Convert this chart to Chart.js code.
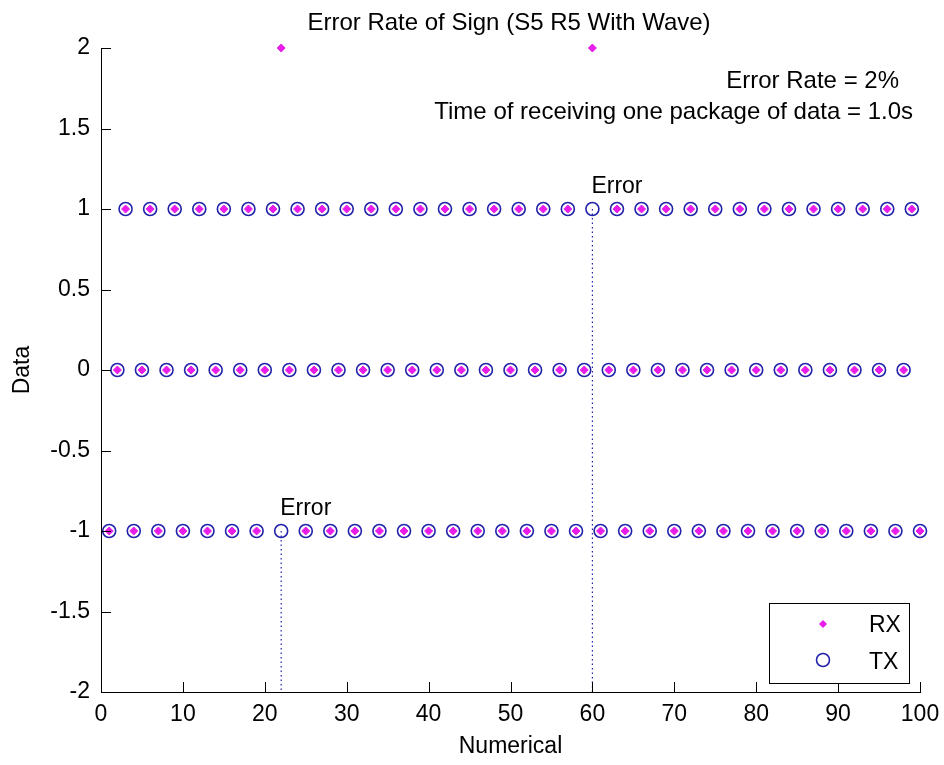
<!DOCTYPE html>
<html>
<head>
<meta charset="utf-8">
<script src="https://cdn.jsdelivr.net/npm/chart.js@4/dist/chart.umd.min.js"></script>
<style>
  html, body { margin: 0; padding: 0; background: #fff; }
  #wrap { width: 944px; height: 765px; }
</style>
</head>
<body>
<div id="wrap"><canvas id="chart" width="944" height="765"></canvas></div>
<script>
// sample index 1..100
const numerical = [1,2,3,4,5,6,7,8,9,10,11,12,13,14,15,16,17,18,19,20,
  21,22,23,24,25,26,27,28,29,30,31,32,33,34,35,36,37,38,39,40,
  41,42,43,44,45,46,47,48,49,50,51,52,53,54,55,56,57,58,59,60,
  61,62,63,64,65,66,67,68,69,70,71,72,73,74,75,76,77,78,79,80,
  81,82,83,84,85,86,87,88,89,90,91,92,93,94,95,96,97,98,99,100];

const txData = [-1,0,1,-1,0,1,-1,0,1,-1,0,1,-1,0,1,-1,0,1,-1,0,
  1,-1,0,1,-1,0,1,-1,0,1,-1,0,1,-1,0,1,-1,0,1,-1,
  0,1,-1,0,1,-1,0,1,-1,0,1,-1,0,1,-1,0,1,-1,0,1,
  -1,0,1,-1,0,1,-1,0,1,-1,0,1,-1,0,1,-1,0,1,-1,0,
  1,-1,0,1,-1,0,1,-1,0,1,-1,0,1,-1,0,1,-1,0,1,-1];

const rxData = [-1,0,1,-1,0,1,-1,0,1,-1,0,1,-1,0,1,-1,0,1,-1,0,
  1,2,0,1,-1,0,1,-1,0,1,-1,0,1,-1,0,1,-1,0,1,-1,
  0,1,-1,0,1,-1,0,1,-1,0,1,-1,0,1,-1,0,1,-1,0,2,
  -1,0,1,-1,0,1,-1,0,1,-1,0,1,-1,0,1,-1,0,1,-1,0,
  1,-1,0,1,-1,0,1,-1,0,1,-1,0,1,-1,0,1,-1,0,1,-1];

const errorX = [22, 60];
const errorTx = [-1, 1];

const xTicks = [0,10,20,30,40,50,60,70,80,90,100];
const yTicks = [-2,-1.5,-1,-0.5,0,0.5,1,1.5,2];

const titleText = 'Error Rate of Sign (S5 R5 With Wave)';
const noteLines = ['Error Rate = 2%', 'Time of receiving one package of data = 1.0s'];

const FONT = '"Liberation Sans", Arial, sans-serif';
const RX_COLOR = '#e81ee8';
const TX_COLOR = '#2222aa';

const rxPoints = numerical.map((x, i) => ({ x: x, y: rxData[i] }));
const txPoints = numerical.map((x, i) => ({ x: x, y: txData[i] }));

const dropLines = errorX.map((x, i) => ({
  type: 'line',
  label: 'drop' + i,
  data: [{ x: x, y: errorTx[i] }, { x: x, y: -2 }],
  borderColor: TX_COLOR,
  borderWidth: 1.2,
  borderDash: [1.5, 3],
  pointRadius: 0,
  showLine: true,
  order: 3
}));

const decor = {
  id: 'decor',
  afterDraw(chart) {
    const ctx = chart.ctx;
    const xs = chart.scales.x, ys = chart.scales.y;
    const area = chart.chartArea;
    ctx.save();
    // inward ticks
    ctx.strokeStyle = '#000';
    ctx.lineWidth = 1;
    ctx.beginPath();
    xTicks.forEach(t => {
      const px = Math.round(xs.getPixelForValue(t)) + 0.5;
      ctx.moveTo(px, area.bottom);
      ctx.lineTo(px, area.bottom - 10);
    });
    yTicks.forEach(t => {
      const py = Math.round(ys.getPixelForValue(t)) + 0.5;
      ctx.moveTo(area.left, py);
      ctx.lineTo(area.left + 10, py);
    });
    ctx.stroke();

    ctx.fillStyle = '#000';
    // title
    ctx.font = '24px ' + FONT;
    ctx.textAlign = 'center';
    ctx.textBaseline = 'alphabetic';
    ctx.fillText(titleText, 509, 30);

    // notes
    ctx.textAlign = 'right';
    ctx.fillText(noteLines[0], 899, 88);
    ctx.fillText(noteLines[1], 913, 119);

    // error labels
    ctx.textAlign = 'left';
    ctx.font = '23px ' + FONT;
    errorX.forEach((x, i) => {
      const px = xs.getPixelForValue(x);
      const py = ys.getPixelForValue(errorTx[i]);
      ctx.fillText('Error', px - 1, py - 16);
    });

    // legend box
    const lx = 769, ly = 603, lw = 140, lh = 80;
    ctx.fillStyle = '#fff';
    ctx.fillRect(lx, ly, lw, lh);
    ctx.strokeStyle = '#000';
    ctx.lineWidth = 1;
    ctx.strokeRect(lx + 0.5, ly + 0.5, lw, lh);
    // RX marker
    ctx.fillStyle = RX_COLOR;
    ctx.beginPath();
    ctx.moveTo(823, 620); ctx.lineTo(827, 624); ctx.lineTo(823, 628); ctx.lineTo(819, 624);
    ctx.closePath();
    ctx.fill();
    // TX marker
    ctx.strokeStyle = TX_COLOR;
    ctx.lineWidth = 1.6;
    ctx.beginPath();
    ctx.arc(823, 660, 6.5, 0, Math.PI * 2);
    ctx.stroke();
    ctx.fillStyle = '#000';
    ctx.font = '23px ' + FONT;
    ctx.textAlign = 'left';
    ctx.textBaseline = 'middle';
    ctx.fillText('RX', 869, 626);
    ctx.fillText('TX', 869, 663);
    ctx.restore();
  }
};

new Chart(document.getElementById('chart'), {
  type: 'scatter',
  data: {
    datasets: [
      {
        label: 'RX',
        data: rxPoints,
        pointStyle: 'rectRot',
        pointRadius: 4,
        pointBackgroundColor: RX_COLOR,
        pointBorderColor: RX_COLOR,
        pointBorderWidth: 1,
        clip: false,
        order: 2
      },
      {
        label: 'TX',
        data: txPoints,
        pointStyle: 'circle',
        pointRadius: 6.5,
        pointBackgroundColor: 'rgba(0,0,0,0)',
        pointBorderColor: TX_COLOR,
        pointBorderWidth: 1.6,
        clip: false,
        order: 1
      },
      ...dropLines
    ]
  },
  options: {
    responsive: false,
    animation: false,
    layout: { padding: { left: 0, right: 24, top: 48, bottom: 0 } },
    plugins: {
      legend: { display: false },
      title: { display: false },
      tooltip: { enabled: false }
    },
    scales: {
      x: {
        type: 'linear',
        min: 0, max: 100,
        afterFit(s) { s.height = 73; s.paddingLeft = 0; s.paddingRight = 0; },
        afterBuildTicks(s) { s.ticks = xTicks.map(v => ({ value: v })); },
        grid: { display: false, drawTicks: false },
        border: { display: true, color: '#000', width: 1 },
        ticks: { color: '#000', font: { family: FONT, size: 23 }, padding: 9, maxRotation: 0 },
        title: { display: true, text: 'Numerical', color: '#000', font: { family: FONT, size: 23 }, padding: { top: 0, bottom: 5 } }
      },
      y: {
        type: 'linear',
        min: -2, max: 2,
        afterFit(s) { s.width = 101; s.paddingTop = 0; s.paddingBottom = 0; },
        afterBuildTicks(s) { s.ticks = yTicks.map(v => ({ value: v })); },
        grid: { display: false, drawTicks: false },
        border: { display: true, color: '#000', width: 1 },
        ticks: { color: '#000', font: { family: FONT, size: 23 }, padding: 11, callback: v => String(v) },
        title: { display: true, text: 'Data', color: '#000', font: { family: FONT, size: 23 }, padding: { top: 9, bottom: 0 } }
      }
    }
  },
  plugins: [decor]
});
</script>
</body>
</html>
